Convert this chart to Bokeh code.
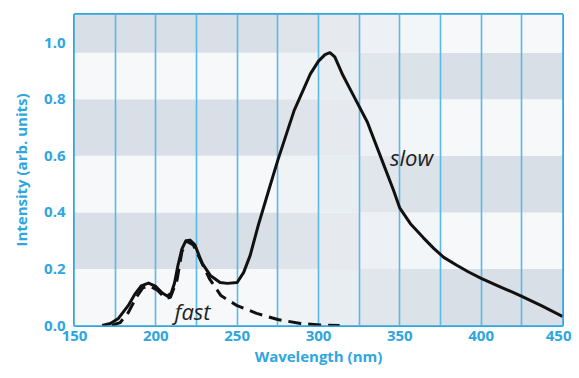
from bokeh.plotting import figure
from bokeh.models import FixedTicker, NumeralTickFormatter, Range1d
from bokeh.core.properties import value
from bokeh.embed import file_html
from bokeh.resources import INLINE

# ---- data ----
slow_nm = [167, 172, 177, 183, 187, 191, 195.5, 200, 204, 207, 209.5, 211.5, 213.5, 216, 218.5,
           221, 224, 228.5, 233.5, 239.5, 244, 250, 254, 258, 263, 270, 275, 285, 295, 300,
           304, 307, 310, 315, 320, 330, 340, 346, 350, 356.5, 364.5, 371, 377, 385, 392, 400,
           412, 424, 437, 450]
slow_int = [0.0, 0.007, 0.025, 0.07, 0.11, 0.14, 0.15, 0.138, 0.115, 0.104, 0.115, 0.15, 0.21,
            0.27, 0.3, 0.302, 0.285, 0.22, 0.177, 0.152, 0.149, 0.152, 0.188, 0.248, 0.355, 0.49,
            0.585, 0.76, 0.89, 0.935, 0.958, 0.965, 0.95, 0.885, 0.83, 0.72, 0.57, 0.48, 0.415,
            0.36, 0.31, 0.272, 0.241, 0.213, 0.19, 0.167, 0.136, 0.106, 0.07, 0.032]

fast_nm = [173, 178, 183, 188, 192, 196, 201, 206, 209, 213, 216, 219, 223, 228, 233, 240, 250,
           262, 275, 289, 301, 313]
fast_int = [0.0, 0.01, 0.045, 0.1, 0.133, 0.14, 0.125, 0.095, 0.1, 0.16, 0.26, 0.298, 0.285,
            0.225, 0.165, 0.106, 0.07, 0.043, 0.021, 0.007, 0.002, 0.0]

x_ticks = [150, 200, 250, 300, 350, 400, 450]
y_ticks = [0.0, 0.2, 0.4, 0.6, 0.8, 1.0]
grid_lines = [175, 200, 225, 250, 275, 300, 325, 350, 375, 400, 425]

# background band layout (decoration)
col_edges = [150, 175, 200, 225, 250, 275, 300, 325, 350, 375, 400, 425, 450]
col_blend = [0, 0, 0, 0, 0, 0.2, 0.45, 0.7, 0.9, 1, 1, 1]
band_edges = [0.0, 0.2, 0.4, 0.6, 0.8, 0.965, 1.1]
band_left_grey = [False, True, False, True, False, True]

BLUE = "#2ea6e0"
GRID_BLUE = "#5ab9e8"
GREY = (216, 223, 230)
WHITE = (246, 248, 250)

p = figure(width=571, height=370, output_backend="svg", toolbar_location=None,
           x_range=Range1d(150, 450), y_range=Range1d(0, 1.1),
           min_border_left=74, min_border_right=9, min_border_top=14, min_border_bottom=45)
p.background_fill_color = "white"
p.border_fill_color = "white"

# bands
ql, qr, qb, qt, qc = [], [], [], [], []
for i in range(len(col_edges) - 1):
    w = col_blend[i]
    for j in range(len(band_edges) - 1):
        left_val = 1.0 if band_left_grey[j] else 0.0
        g = left_val * (1 - w) + (1 - left_val) * w
        c = tuple(int(round(WHITE[k] + (GREY[k] - WHITE[k]) * g)) for k in range(3))
        ql.append(col_edges[i]); qr.append(col_edges[i + 1])
        qb.append(band_edges[j]); qt.append(band_edges[j + 1])
        qc.append("#%02x%02x%02x" % c)
bands = p.quad(left=ql, right=qr, bottom=qb, top=qt, fill_color=qc, line_color=None)
bands.level = "image"

# grid
p.xgrid.ticker = FixedTicker(ticks=grid_lines)
p.xgrid.grid_line_color = GRID_BLUE
p.xgrid.grid_line_width = 1.6
p.ygrid.grid_line_color = None

# curves
p.line(slow_nm, slow_int, line_color="#111111", line_width=3, line_join="round")
p.line(fast_nm, fast_int, line_color="#111111", line_width=3, line_dash="13 7")

# labels
p.text(x=[344], y=[0.596], text=["slow"], text_font=value("Open Sans"), text_font_style="italic",
       text_font_size="22px", text_color="#222222", text_baseline="alphabetic")
p.text(x=[211.5], y=[0.05], text=["fast"], text_font=value("Open Sans"), text_font_style="italic",
       text_font_size="22px", text_color="#222222", text_baseline="alphabetic")

# frame
p.outline_line_color = BLUE
p.outline_line_width = 3
p.outline_line_alpha = 1

for ax in (p.xaxis, p.yaxis):
    ax.axis_line_color = None
    ax.major_tick_line_color = None
    ax.minor_tick_line_color = None
    ax.major_tick_in = 0
    ax.major_tick_out = 0
    ax.minor_tick_in = 0
    ax.minor_tick_out = 0
    ax.major_label_text_color = BLUE
    ax.major_label_text_font = "Open Sans"
    ax.major_label_text_font_style = "bold"
    ax.major_label_text_font_size = "15px"
    ax.axis_label_text_color = BLUE
    ax.axis_label_text_font = "Open Sans"
    ax.axis_label_text_font_style = "bold"
    ax.axis_label_text_font_size = "15px"

p.xaxis.ticker = FixedTicker(ticks=x_ticks)
p.yaxis.ticker = FixedTicker(ticks=y_ticks)
p.yaxis.formatter = NumeralTickFormatter(format="0.0")
p.xaxis.axis_label = "Wavelength (nm)"
p.yaxis.axis_label = "Intensity (arb. units)"
p.xaxis.major_label_standoff = 5
p.yaxis.major_label_standoff = 9
p.xaxis.axis_label_standoff = 2
p.yaxis.axis_label_standoff = 10

open("out.html", "w").write(file_html(p, INLINE))
